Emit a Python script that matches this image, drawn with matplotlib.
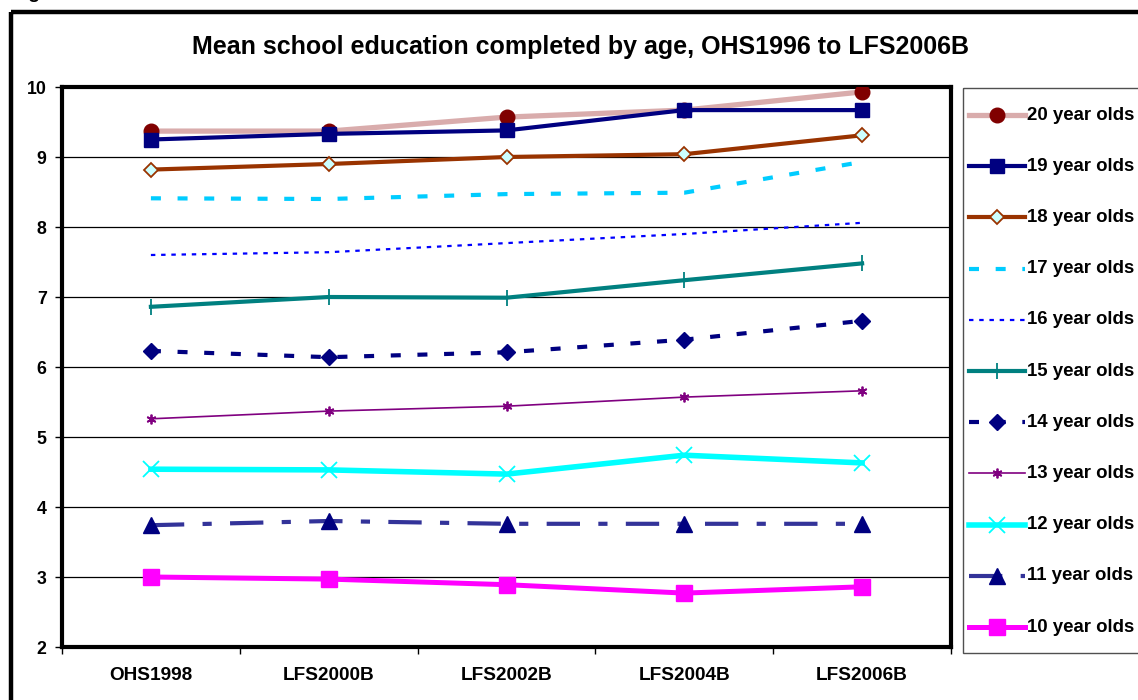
import matplotlib
matplotlib.use("Agg")
import matplotlib.pyplot as plt
from matplotlib.lines import Line2D
from matplotlib.patches import Rectangle

plt.rcParams['font.family'] = ['Liberation Sans', 'DejaVu Sans']

# ---- data -------------------------------------------------------------
surveys = ["OHS1998", "LFS2000B", "LFS2002B", "LFS2004B", "LFS2006B"]
age_labels = ["20 year olds", "19 year olds", "18 year olds", "17 year olds",
              "16 year olds", "15 year olds", "14 year olds", "13 year olds",
              "12 year olds", "11 year olds", "10 year olds"]
age_20 = [9.37, 9.37, 9.57, 9.67, 9.93]
age_19 = [9.25, 9.33, 9.38, 9.67, 9.67]
age_18 = [8.82, 8.90, 9.00, 9.04, 9.31]
age_17 = [8.41, 8.40, 8.47, 8.49, 8.93]
age_16 = [7.60, 7.64, 7.77, 7.90, 8.06]
age_15 = [6.86, 7.00, 6.99, 7.24, 7.48]
age_14 = [6.23, 6.14, 6.21, 6.39, 6.66]
age_13 = [5.26, 5.37, 5.44, 5.57, 5.66]
age_12 = [4.54, 4.53, 4.47, 4.74, 4.63]
age_11 = [3.74, 3.80, 3.76, 3.76, 3.76]
age_10 = [3.00, 2.97, 2.89, 2.77, 2.86]
series = [age_20, age_19, age_18, age_17, age_16, age_15,
          age_14, age_13, age_12, age_11, age_10]

# ---- styles -----------------------------------------------------------
styles = [
    dict(color='#d9acac', lw=3.8, marker='o', ms=10.5, mfc='#800000', mec='#800000'),
    dict(color='#000080', lw=3.0, marker='s', ms=9.5, mfc='#000080', mec='#000080'),
    dict(color='#993300', lw=3.0, marker='D', ms=7.5, mfc='#ccffff', mec='#993300', mew=1.3),
    dict(color='#00ccff', lw=3.0, dashes=(2.4, 4.0), marker='None'),
    dict(color='#0000ff', lw=1.6, dashes=(2.0, 2.6), marker='None'),
    dict(color='#008080', lw=3.0, marker='|', ms=11, mfc='#008080', mec='#008080', mew=1.3),
    dict(color='#000080', lw=3.0, dashes=(2.4, 4.0), marker='D', ms=8.0, mfc='#000080', mec='#000080'),
    dict(color='#800080', lw=1.2, marker=(6, 2, 0), ms=7, mfc='#800080', mec='#800080', mew=1.3),
    dict(color='#00ffff', lw=4.0, marker='x', ms=11.5, mfc='#00ffff', mec='#00ffff', mew=1.3),
    dict(color='#333399', lw=3.0, dashes=(8.0, 4.4, 2.2, 4.4), marker='^', ms=11, mfc='#000080', mec='#000080'),
    dict(color='#ff00ff', lw=3.6, marker='s', ms=11, mfc='#ff00ff', mec='#ff00ff'),
]

W, H = 1138, 700
fig = plt.figure(figsize=(W / 100, H / 100), dpi=100)


def rect(x0, y0, x1, y1):
    return [x0 / W, 1 - y1 / H, (x1 - x0) / W, (y1 - y0) / H]


# ---- overlay for outer frame and legend ------------------------------
ov = fig.add_axes([0, 0, 1, 1])
ov.set_xlim(0, W)
ov.set_ylim(H, 0)
ov.axis('off')
ov.add_patch(Rectangle((11, 12), W + 20, H + 20, fill=False, lw=3.2, ec='black'))
ov.add_patch(Rectangle((963, 88), 200, 565, fill=False, lw=1.0, ec='#505050'))

# figure caption sitting just above the top edge of the page
fig.text(12 / W, 1 + 1.5 / H, "Figure", fontsize=14, fontweight='bold',
         ha='left', va='baseline')

# ---- main plot --------------------------------------------------------
ax = fig.add_axes(rect(62, 87, 951, 647))
x = list(range(len(surveys)))
for i, (vals, st) in enumerate(zip(series, styles)):
    kw = dict(st)
    dashes = kw.pop('dashes', None)
    line, = ax.plot(x, vals, zorder=3 + i, solid_joinstyle='round',
                    dash_capstyle='butt', **kw)
    if dashes is not None:
        line.set_dashes(dashes)

ax.set_xlim(-0.5, len(surveys) - 0.5)
ax.set_ylim(2, 10)
ax.set_yticks(range(2, 11))
ax.yaxis.grid(True, color='black', lw=0.9, zorder=1)
ax.set_axisbelow(True)
ax.set_xticks(x)
ax.set_xticklabels(surveys)
ax.set_xticks([v - 0.5 for v in range(len(surveys) + 1)], minor=True)
ax.tick_params(axis='x', which='major', length=0, pad=14.5, labelsize=13.7)
ax.tick_params(axis='x', which='minor', length=5, width=1, direction='out')
ax.tick_params(axis='y', length=5, width=1, direction='out', pad=6, labelsize=12.8)
for lab in ax.get_xticklabels() + ax.get_yticklabels():
    lab.set_fontweight('bold')
for sp in ax.spines.values():
    sp.set_linewidth(3.0)
    sp.set_color('black')

fig.text(580 / W, 1 - 47 / H,
         "Mean school education completed by age, OHS1996 to LFS2006B",
         ha='center', va='center', fontsize=18, fontweight='bold')

# ---- legend -----------------------------------------------------------
for i, (lab, st) in enumerate(zip(age_labels, styles)):
    y = 115 + i * 51.2
    kw = dict(st)
    dashes = kw.pop('dashes', None)
    marker_kw = {k: kw.pop(k) for k in ['marker', 'ms', 'mfc', 'mec', 'mew'] if k in kw}
    seg = Line2D([969, 1025], [y, y], dash_capstyle='butt', **kw)
    if dashes is not None:
        seg.set_dashes(dashes)
    ov.add_line(seg)
    if marker_kw.get('marker', 'None') != 'None':
        ov.add_line(Line2D([997], [y], ls='None', **marker_kw))
    ov.text(1027, y, lab, ha='left', va='center', fontsize=13.4, fontweight='bold')

fig.savefig("out.png", dpi=100)
